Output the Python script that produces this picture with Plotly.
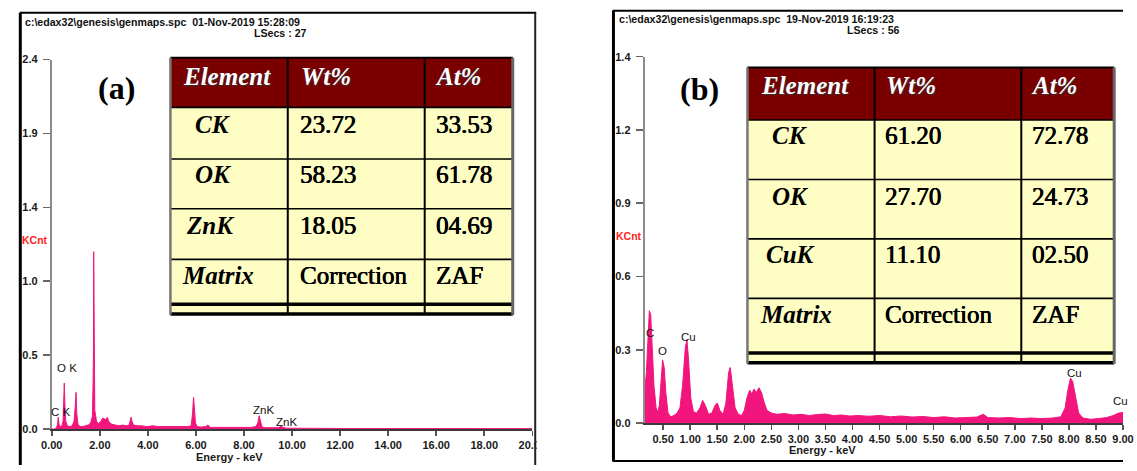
import plotly.graph_objects as go

W, H = 1137, 471

# ---------------- data ----------------
# Spectrum (a): energy (keV) and counts (KCnt)
energy_a = [0.00, 0.12, 0.20, 0.24, 0.27, 0.30, 0.36, 0.42, 0.47, 0.50, 0.52, 0.545, 0.58, 0.65, 0.75,
            0.85, 0.93, 0.98, 1.01, 1.04, 1.09, 1.18, 1.28, 1.40, 1.52, 1.62, 1.69, 1.72, 1.735, 1.745,
            1.76, 1.79, 1.86, 1.95, 2.05, 2.12, 2.18, 2.25, 2.31, 2.38, 2.50, 2.65, 2.80, 2.95, 3.10,
            3.22, 3.30, 3.34, 3.40, 3.55, 3.75, 3.95, 4.20, 4.45, 4.70, 4.95, 5.20, 5.45, 5.65, 5.80,
            5.86, 5.90, 5.93, 5.98, 6.05, 6.20, 6.40, 6.50, 6.60, 6.80, 7.10, 7.40, 7.70, 8.00, 8.30,
            8.50, 8.58, 8.63, 8.68, 8.75, 8.90, 9.20, 9.45, 9.55, 9.62, 9.75, 10.2, 11.0, 12.0, 13.0,
            14.0, 15.0, 16.0, 17.0, 18.0, 19.0, 20.0]
counts_a = [0.0, 0.0, 0.01, 0.03, 0.075, 0.03, 0.015, 0.02, 0.05, 0.18, 0.295, 0.16, 0.05, 0.02, 0.015,
            0.02, 0.05, 0.15, 0.235, 0.10, 0.03, 0.015, 0.015, 0.02, 0.025, 0.04, 0.08, 0.30, 0.50, 1.14,
            0.45, 0.12, 0.05, 0.035, 0.05, 0.07, 0.065, 0.06, 0.075, 0.045, 0.03, 0.025, 0.02, 0.025, 0.02,
            0.025, 0.075, 0.05, 0.025, 0.02, 0.02, 0.015, 0.02, 0.015, 0.015, 0.012, 0.015, 0.012, 0.015, 0.02,
            0.10, 0.205, 0.12, 0.04, 0.015, 0.012, 0.015, 0.025, 0.01, 0.01, 0.008, 0.008, 0.008, 0.01, 0.01,
            0.015, 0.04, 0.085, 0.045, 0.012, 0.008, 0.006, 0.008, 0.02, 0.01, 0.005, 0.004, 0.004, 0.003, 0.003,
            0.003, 0.002, 0.002, 0.002, 0.002, 0.002, 0.002]

# Spectrum (b)
energy_b = [0.16, 0.165, 0.19, 0.22, 0.245, 0.27, 0.30, 0.33, 0.37, 0.40, 0.43, 0.46, 0.49, 0.52, 0.55,
            0.59, 0.64, 0.70, 0.76, 0.81, 0.86, 0.91, 0.94, 0.97, 1.01, 1.06, 1.12, 1.18, 1.23, 1.28,
            1.34, 1.40, 1.46, 1.50, 1.55, 1.61, 1.66, 1.71, 1.74, 1.78, 1.83, 1.89, 1.95, 2.00, 2.05,
            2.10, 2.14, 2.18, 2.22, 2.27, 2.32, 2.37, 2.42, 2.50, 2.60, 2.75, 2.90, 3.05, 3.20, 3.35,
            3.50, 3.65, 3.80, 3.95, 4.10, 4.30, 4.50, 4.70, 4.90, 5.10, 5.30, 5.50, 5.70, 5.90, 6.10,
            6.30, 6.42, 6.50, 6.70, 6.90, 7.10, 7.30, 7.50, 7.70, 7.85, 7.93, 7.98, 8.03, 8.07, 8.12,
            8.18, 8.26, 8.40, 8.55, 8.70, 8.82, 8.92, 9.00]
counts_b = [0.0, 0.14, 0.20, 0.33, 0.445, 0.43, 0.30, 0.15, 0.06, 0.045, 0.07, 0.16, 0.25, 0.22, 0.12,
            0.04, 0.025, 0.03, 0.04, 0.06, 0.15, 0.30, 0.33, 0.25, 0.10, 0.045, 0.04, 0.06, 0.09, 0.07,
            0.035, 0.04, 0.07, 0.08, 0.05, 0.035, 0.08, 0.20, 0.22, 0.15, 0.06, 0.035, 0.03, 0.05, 0.10,
            0.13, 0.115, 0.135, 0.12, 0.14, 0.12, 0.08, 0.05, 0.04, 0.035, 0.038, 0.032, 0.035, 0.03, 0.034,
            0.036, 0.03, 0.032, 0.028, 0.03, 0.027, 0.03, 0.025, 0.028, 0.024, 0.026, 0.022, 0.025, 0.02, 0.022,
            0.024, 0.035, 0.022, 0.02, 0.022, 0.018, 0.02, 0.018, 0.02, 0.025, 0.06, 0.13, 0.178, 0.165, 0.10,
            0.04, 0.02, 0.015, 0.018, 0.022, 0.03, 0.04, 0.042]

# axis ticks
xticks_a = [0, 2, 4, 6, 8, 10, 12, 14, 16, 18, 20]
xlabels_a = ["0.00", "2.00", "4.00", "6.00", "8.00", "10.00", "12.00", "14.00", "16.00", "18.00", "20.00"]
yticks_a = [0, 0.475, 0.95, 1.425, 1.9, 2.375]
ylabels_a = ["0.0", "0.5", "1.0", "1.4", "1.9", "2.4"]
xticks_b = [0.5, 1.0, 1.5, 2.0, 2.5, 3.0, 3.5, 4.0, 4.5, 5.0, 5.5, 6.0, 6.5, 7.0, 7.5, 8.0, 8.5, 9.0]
xlabels_b = ["0.50", "1.00", "1.50", "2.00", "2.50", "3.00", "3.50", "4.00", "4.50", "5.00", "5.50",
             "6.00", "6.50", "7.00", "7.50", "8.00", "8.50", "9.00"]
yticks_b = [0, 0.29, 0.58, 0.87, 1.16, 1.45]
ylabels_b = ["0.0", "0.3", "0.6", "0.9", "1.2", "1.4"]

# peak labels (text, energy, label height)
peak_text_a = ["C K", "O K", "ZnK", "ZnK"]
peak_e_a = [0.38, 0.62, 8.81, 9.79]
peak_y_a = [0.107, 0.39, 0.12, 0.045]
peak_text_b = ["C", "O", "Cu", "Cu"]
peak_e_b = [0.25, 0.49, 0.96, 8.10]
peak_y_b = [0.356, 0.285, 0.34, 0.20]

# tables
table_header = ["Element", "Wt%", "At%"]
elements_a = ["CK", "OK", "ZnK", "Matrix"]
wt_a = ["23.72", "58.23", "18.05", "Correction"]
at_a = ["33.53", "61.78", "04.69", "ZAF"]
elements_b = ["CK", "OK", "CuK", "Matrix"]
wt_b = ["61.20", "27.70", "11.10", "Correction"]
at_b = ["72.78", "24.73", "02.50", "ZAF"]

# ---------------- style ----------------
PINK = "#f2157d"
MAROON = "#7a0000"
YELLOW = "#fdfdc4"
SANS = "Liberation Sans, Arial, sans-serif"
SERIF = "Liberation Serif, Times New Roman, serif"
HEAVY = "0.45px 0px 0px #000, -0.2px 0px 0px #000"


def px(x):
    return x / W


def py(y):
    return 1 - y / H


fig = go.Figure()
fig.add_trace(go.Scatter(x=energy_a, y=counts_a, xaxis="x", yaxis="y", mode="lines",
                         line=dict(color=PINK, width=1), fill="tozeroy", fillcolor=PINK,
                         hoverinfo="skip"))
fig.add_trace(go.Scatter(x=energy_b, y=counts_b, xaxis="x2", yaxis="y2", mode="lines",
                         line=dict(color=PINK, width=1), fill="tozeroy", fillcolor=PINK,
                         hoverinfo="skip"))

tickfont = dict(family=SANS, size=11, color="#1a1a1a", weight="bold")
common_x = dict(showline=True, linecolor="#3a3a3a", linewidth=2, ticks="outside", ticklen=5,
                tickwidth=1.5, tickcolor="#555", showgrid=False, zeroline=False, tickfont=tickfont,
                fixedrange=True)
common_y = dict(showline=True, linecolor="#8c8c8c", linewidth=2, ticks="outside", ticklen=7,
                tickwidth=1.5, tickcolor="#666", showgrid=False, zeroline=False, tickfont=tickfont,
                fixedrange=True, ticklabelstandoff=3)

fig.update_layout(
    width=W, height=H, margin=dict(l=0, r=0, t=0, b=0),
    paper_bgcolor="white", plot_bgcolor="white", showlegend=False,
    xaxis=dict(domain=[px(41.7), px(533)], range=[0, 20], anchor="y",
               tickvals=xticks_a, ticktext=xlabels_a, **common_x),
    yaxis=dict(domain=[py(434), py(55)], range=[0, 2.375], anchor="x",
               tickvals=yticks_a, ticktext=ylabels_a, **common_y),
    xaxis2=dict(domain=[px(648), 1.0], range=[0.16, 9.0], anchor="y2",
                tickvals=xticks_b, ticktext=xlabels_b, **common_x),
    yaxis2=dict(domain=[py(428), py(52)], range=[0, 1.45], anchor="x2",
                tickvals=yticks_b, ticktext=ylabels_b, **common_y),
)

shapes = []
annotations = []


def line(x0, y0, x1, y1, color="black", width=2):
    shapes.append(dict(type="line", xref="paper", yref="paper", x0=px(x0), y0=py(y0),
                       x1=px(x1), y1=py(y1), line=dict(color=color, width=width), layer="above"))


def rect(x0, y0, x1, y1, fill):
    shapes.append(dict(type="rect", xref="paper", yref="paper", x0=px(x0), y0=py(y0),
                       x1=px(x1), y1=py(y1), fillcolor=fill, line=dict(width=0), layer="above"))


def text(x, y, s, size, color="black", family=SANS, bold=False, italic=False, xanchor="left",
         shadow="none"):
    annotations.append(dict(xref="paper", yref="paper", x=px(x), y=py(y), text=s, showarrow=False,
                            xanchor=xanchor, yanchor="middle",
                            font=dict(family=family, size=size, color=color,
                                      weight="bold" if bold else "normal",
                                      style="italic" if italic else "normal",
                                      shadow=shadow)))


# cover clipped part of the last tick label of panel (a)
rect(537.5, 415, 614, 471, "white")

# panel frames
line(9.5, 7, 9.5, 471, width=3)
line(9, 7, 537, 7, width=2)
line(536, 7, 536, 471, color="#222", width=2)
line(616, 5, 616, 467, width=3)
line(615, 5, 1137, 5, width=2)
line(615, 467, 1137, 467, width=2)

# header texts
NB = "\u00a0\u00a0"
text(12, 16, "c:\\edax32\\genesis\\genmaps.spc" + NB + "01-Nov-2019 15:28:09", 10.6, "#111", bold=True)
text(246, 28, "LSecs : 27", 10.6, "#111", bold=True)
text(620, 13, "c:\\edax32\\genesis\\genmaps.spc" + NB + "19-Nov-2019 16:19:23", 10.6, "#111", bold=True)
text(853, 25, "LSecs : 56", 10.6, "#111", bold=True)

# KCnt labels
text(25, 240, "KCnt", 10.5, "#ff1a1a", bold=True, xanchor="center")
text(632, 236, "KCnt", 10.5, "#ff1a1a", bold=True, xanchor="center")

# x-axis titles
text(223, 463, "Energy - keV", 11, "#1a1a1a", bold=True, xanchor="center")
text(830, 456, "Energy - keV", 11, "#1a1a1a", bold=True, xanchor="center")

# panel letters
text(108, 84, "(a)", 32, "black", family=SERIF, bold=True, xanchor="center")
text(704, 85, "(b)", 32, "black", family=SERIF, bold=True, xanchor="center")

# peak labels (data coordinates)
for t, e, h in zip(peak_text_a, peak_e_a, peak_y_a):
    annotations.append(dict(xref="x", yref="y", x=e, y=h, text=t, showarrow=False,
                            font=dict(family=SANS, size=11.5, color="#111")))
for t, e, h in zip(peak_text_b, peak_e_b, peak_y_b):
    annotations.append(dict(xref="x2", yref="y2", x=e, y=h, text=t, showarrow=False,
                            font=dict(family=SANS, size=11.5, color="#111")))
annotations.append(dict(xref="paper", yref="paper", x=px(1125), y=py(414), text="Cu",
                        showarrow=False, xanchor="left",
                        font=dict(family=SANS, size=11.5, color="#111")))


def draw_table(xs, ys, dbl, text_y, col_x, first_col_x, elements, wt, at):
    left, c1, c2, right = xs
    rect(left, ys[0], right, ys[1], MAROON)
    rect(left, ys[1], right, dbl[1], YELLOW)
    for y in ys[1:]:
        line(left, y, right, y, width=1.6)
    line(left, ys[0], right, ys[0], width=2)
    line(left, dbl[0], right, dbl[0], width=3.5)
    line(left, dbl[1], right, dbl[1], width=3.5)
    for x in (c1, c2):
        line(x, ys[0], x, dbl[1] + 1, width=2)
    line(left, ys[0], left, dbl[1] + 1, color="#777", width=2.5)
    line(right, ys[0], right, dbl[1] + 1, color="#666", width=3)
    for k in range(3):
        text(col_x[k] - 2, text_y[0], table_header[k], 25, "white", SERIF, bold=True, italic=True,
             shadow="1px 1px 1px #333")
    for i in range(len(elements)):
        ty = text_y[i + 1]
        text(first_col_x[i] - 2, ty, elements[i], 25, "black", SERIF, bold=True, italic=True)
        text(col_x[1] - 3, ty, wt[i], 25, "black", SERIF, shadow=HEAVY)
        text(col_x[2] - 1, ty, at[i], 25, "black", SERIF, shadow=HEAVY)


draw_table([163, 283, 423, 513], [53, 104, 157, 208, 260], [306, 316],
           [72, 122, 173, 225, 277], [176, 296, 433], [188, 188, 179, 175],
           elements_a, wt_a, at_a)
draw_table([753, 883, 1033, 1128], [63, 117, 178, 239, 300], [356, 366],
           [82, 133, 195, 255, 317], [767, 895, 1043], [778, 778, 772, 766],
           elements_b, wt_b, at_b)

fig.update_layout(shapes=shapes, annotations=annotations)
fig.write_html("out.html", config={"displayModeBar": False, "staticPlot": True})
